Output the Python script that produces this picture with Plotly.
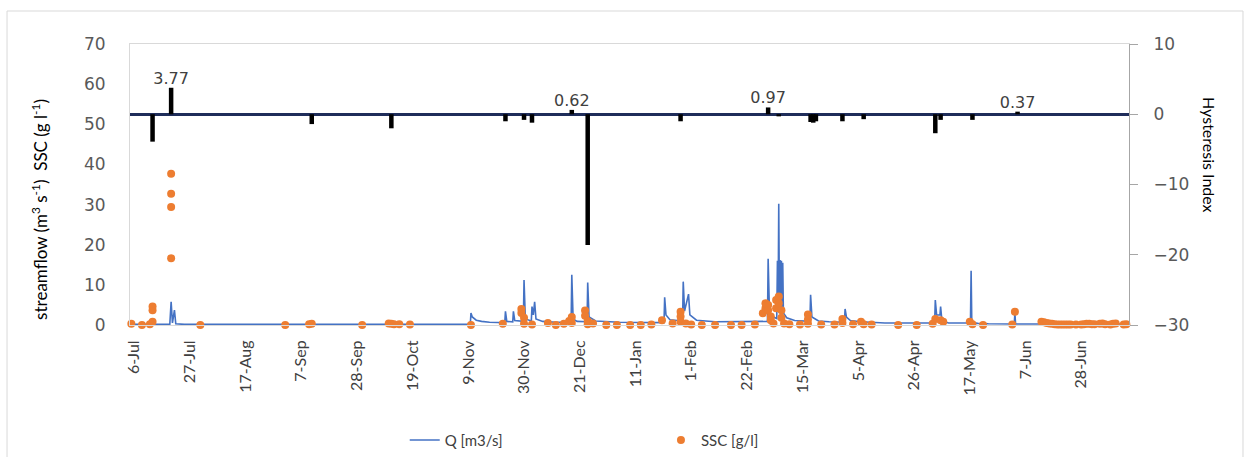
import plotly.graph_objects as go

# ---------------- data ----------------
tick_dates = ["2014-07-06", "2014-07-27", "2014-08-17", "2014-09-07", "2014-09-28",
              "2014-10-19", "2014-11-09", "2014-11-30", "2014-12-21", "2015-01-11",
              "2015-02-01", "2015-02-22", "2015-03-15", "2015-04-05", "2015-04-26",
              "2015-05-17", "2015-06-07", "2015-06-28"]
tick_labels = ["6-Jul", "27-Jul", "17-Aug", "7-Sep", "28-Sep", "19-Oct", "9-Nov",
               "30-Nov", "21-Dec", "11-Jan", "1-Feb", "22-Feb", "15-Mar", "5-Apr",
               "26-Apr", "17-May", "7-Jun", "28-Jun"]

q_dates = ["2014-07-05", "2014-07-19 12:00", "2014-07-20", "2014-07-20 12:00",
           "2014-07-21 06:00", "2014-07-21 18:00", "2014-07-25", "2014-11-09 18:00",
           "2014-11-10", "2014-11-10 12:00", "2014-11-12", "2014-11-14", "2014-11-17",
           "2014-11-20", "2014-11-22 18:00", "2014-11-23", "2014-11-23 12:00",
           "2014-11-25 18:00", "2014-11-26", "2014-11-26 12:00", "2014-11-29 18:00",
           "2014-11-30", "2014-11-30 12:00", "2014-12-02 18:00", "2014-12-03",
           "2014-12-03 12:00", "2014-12-04", "2014-12-04 12:00", "2014-12-07",
           "2014-12-12", "2014-12-17 18:00", "2014-12-18", "2014-12-18 12:00",
           "2014-12-20", "2014-12-23 18:00", "2014-12-24", "2014-12-24 12:00",
           "2014-12-27", "2015-01-05", "2015-01-21 18:00", "2015-01-22",
           "2015-01-22 12:00", "2015-01-24", "2015-01-28 18:00", "2015-01-29",
           "2015-01-29 12:00", "2015-01-31", "2015-01-31 12:00", "2015-02-03",
           "2015-02-10", "2015-03-01 18:00", "2015-03-02", "2015-03-02 12:00",
           "2015-03-04", "2015-03-05 06:00", "2015-03-05 12:00", "2015-03-05 18:00",
           "2015-03-06", "2015-03-06 06:00", "2015-03-06 12:00", "2015-03-06 18:00",
           "2015-03-07", "2015-03-07 06:00", "2015-03-07 12:00", "2015-03-07 18:00",
           "2015-03-09", "2015-03-12", "2015-03-17 18:00", "2015-03-18",
           "2015-03-18 12:00", "2015-03-21", "2015-03-25", "2015-03-30 18:00",
           "2015-03-31", "2015-03-31 12:00", "2015-04-02", "2015-04-06", "2015-04-15",
           "2015-05-03 18:00", "2015-05-04", "2015-05-04 12:00", "2015-05-05 18:00",
           "2015-05-06", "2015-05-06 12:00", "2015-05-09", "2015-05-17 06:00",
           "2015-05-17 12:00", "2015-05-17 18:00", "2015-05-20", "2015-05-24",
           "2015-06-02 18:00", "2015-06-03", "2015-06-03 06:00", "2015-06-10",
           "2015-07-16"]
q_values = [0.2, 0.2, 5.8, 0.5,
            3.7, 0.3, 0.15, 0.15,
            3.0, 2.0, 1.2, 0.9, 0.7,
            0.6, 0.6, 3.4, 0.9,
            0.8, 3.4, 1.1, 0.9,
            11.2, 1.5, 1.0, 4.6,
            2.5, 5.8, 1.5, 0.9,
            0.7, 0.7, 12.5, 1.5,
            0.9, 0.8, 10.6, 2.0,
            1.0, 0.7, 0.6, 6.9,
            2.5, 1.3, 1.0, 10.8,
            3.5, 7.7, 2.5, 1.2,
            0.8, 0.9, 16.5, 3.0,
            2.0, 1.6, 16.0, 3.5,
            30.2, 5.0, 16.2, 4.5,
            16.0, 3.5, 15.5, 3.0,
            1.8, 1.1, 0.9, 7.5,
            2.0, 1.0, 0.8, 0.7,
            4.0, 2.0, 1.1, 0.8, 0.5,
            0.5, 6.2, 2.5, 2.5,
            4.6, 1.0, 0.5, 0.5,
            13.5, 0.6, 0.4, 0.3,
            0.25, 3.0, 0.25, 0.25,
            0.25]

ssc_dates = ["2014-07-05", "2014-07-09", "2014-07-12", "2014-07-13", "2014-07-13",
             "2014-07-13", "2014-07-20", "2014-07-20", "2014-07-20", "2014-07-20",
             "2014-07-31", "2014-09-01", "2014-09-10", "2014-09-11", "2014-09-30",
             "2014-10-10", "2014-10-11", "2014-10-12", "2014-10-14", "2014-10-18",
             "2014-11-10", "2014-11-22", "2014-11-29", "2014-11-29", "2014-11-30",
             "2014-11-30", "2014-12-03", "2014-12-09", "2014-12-12", "2014-12-15",
             "2014-12-17", "2014-12-18", "2014-12-18", "2014-12-23", "2014-12-23",
             "2014-12-24", "2014-12-24", "2014-12-26", "2014-12-31", "2015-01-04",
             "2015-01-09", "2015-01-13", "2015-01-17", "2015-01-21", "2015-01-25",
             "2015-01-28", "2015-01-28", "2015-01-28", "2015-01-30", "2015-02-01",
             "2015-02-05", "2015-02-10", "2015-02-16", "2015-02-20", "2015-02-25",
             "2015-02-28", "2015-03-01", "2015-03-01", "2015-03-02", "2015-03-02",
             "2015-03-03", "2015-03-03", "2015-03-04", "2015-03-05", "2015-03-05",
             "2015-03-06", "2015-03-06", "2015-03-07", "2015-03-07", "2015-03-08",
             "2015-03-10", "2015-03-14", "2015-03-17", "2015-03-17", "2015-03-17",
             "2015-03-22", "2015-03-27", "2015-03-30", "2015-03-30", "2015-04-03",
             "2015-04-06", "2015-04-07", "2015-04-10", "2015-04-20", "2015-04-27",
             "2015-05-03", "2015-05-04", "2015-05-06", "2015-05-07", "2015-05-17",
             "2015-05-18", "2015-05-22", "2015-06-02", "2015-06-03", "2015-06-13",
             "2015-06-14", "2015-06-15", "2015-06-16", "2015-06-17", "2015-06-18",
             "2015-06-19", "2015-06-20", "2015-06-21", "2015-06-22", "2015-06-23",
             "2015-06-24", "2015-06-26", "2015-06-28", "2015-06-29", "2015-06-30",
             "2015-07-01", "2015-07-02", "2015-07-03", "2015-07-05", "2015-07-06",
             "2015-07-07", "2015-07-09", "2015-07-10", "2015-07-11", "2015-07-14",
             "2015-07-15"]
ssc_values = [0.3, 0.0, 0.2, 0.8, 3.7,
              4.6, 16.6, 29.4, 32.7, 37.7,
              0.0, 0.0, 0.2, 0.3, 0.0,
              0.4, 0.3, 0.2, 0.2, 0.1,
              0.0, 0.3, 4.0, 3.0, 1.8,
              0.3, 0.1, 0.5, 0.0, 0.3,
              1.0, 2.0, 0.5, 3.6, 2.3,
              1.0, 0.2, 0.4, 0.0, 0.0,
              0.0, 0.0, 0.1, 1.2, 0.4,
              3.3, 2.1, 0.8, 0.4, 0.1,
              0.0, 0.0, 0.0, 0.0, 0.1,
              2.9, 4.2, 5.4, 5.0, 3.7,
              2.1, 1.2, 0.4, 4.2, 6.2,
              7.1, 5.4, 3.7, 1.8, 0.4,
              0.2, 0.1, 2.6, 1.4, 0.3,
              0.1, 0.1, 1.5, 0.5, 0.2,
              0.8, 0.2, 0.1, 0.0, 0.0,
              0.3, 1.5, 1.2, 0.8, 0.8,
              0.2, 0.0, 0.1, 3.3, 0.8,
              0.7, 0.5, 0.4, 0.3, 0.2,
              0.1, 0.1, 0.1, 0.1, 0.1,
              0.1, 0.1, 0.1, 0.2, 0.3,
              0.3, 0.2, 0.2, 0.3, 0.4,
              0.2, 0.1, 0.3, 0.4, 0.1,
              0.2]

hi_dates = ["2014-07-13", "2014-07-20", "2014-09-11", "2014-10-11", "2014-11-23",
            "2014-11-30", "2014-12-03", "2014-12-18", "2014-12-24", "2015-01-28",
            "2015-03-02", "2015-03-06", "2015-03-18", "2015-03-19", "2015-03-20",
            "2015-03-30", "2015-04-07", "2015-05-04", "2015-05-06", "2015-05-18",
            "2015-06-04"]
hi_values = [-3.9, 3.77, -1.4, -2.0, -1.0,
             -0.8, -1.2, 0.62, -18.6, -1.0,
             0.97, -0.3, -1.1, -1.2, -1.0,
             -1.0, -0.7, -2.7, -0.8, -0.8,
             0.37]
# labelled (positive) hysteresis events
lbl_dates = ["2014-07-20", "2014-12-18", "2015-03-02", "2015-06-04"]
lbl_values = [3.77, 0.62, 0.97, 0.37]

# ---------------- figure ----------------
BLUE = "#4472C4"
ORANGE = "#ED7D31"
TICK_FONT = dict(family="DejaVu Sans", size=17, color="#595959")
DATE_FONT = dict(family="Lato", size=16, color="#404040")

fig = go.Figure()

fig.add_trace(go.Scatter(
    x=q_dates, y=q_values, mode="lines", name="Q [m3/s]",
    line=dict(color=BLUE, width=1.6), cliponaxis=False, legend="legend",
))
fig.add_trace(go.Scatter(
    x=ssc_dates, y=ssc_values, mode="markers", name="SSC [g/l]",
    marker=dict(color=ORANGE, size=8, line=dict(width=0)), cliponaxis=False,
    legend="legend2",
))
fig.add_trace(go.Bar(
    x=hi_dates, y=hi_values, yaxis="y2", name="HI", showlegend=False,
    marker=dict(color="black", line=dict(width=0)),
    width=1.7 * 86400000, cliponaxis=False,
))
fig.add_trace(go.Scatter(
    x=lbl_dates, y=lbl_values, yaxis="y2", mode="text", showlegend=False,
    text=[f"{v:.2f}" for v in lbl_values], textposition="top center",
    textfont=dict(family="DejaVu Sans", size=16, color="#404040"),
    cliponaxis=False,
))

fig.update_layout(
    width=1250, height=457,
    margin=dict(l=130, r=121, t=44, b=132, autoexpand=False),
    paper_bgcolor="white", plot_bgcolor="white",
    showlegend=True,
    xaxis=dict(
        type="date", range=["2014-07-04 12:00", "2015-07-16"],
        tickmode="array", tickvals=tick_dates, ticktext=tick_labels,
        tickangle=-90, tickfont=DATE_FONT, ticks="",
        ticklabelstandoff=8, automargin=False,
        showgrid=False, zeroline=False,
        showline=True, linecolor="#d9d9d9", linewidth=1, mirror=True,
    ),
    yaxis=dict(
        range=[0, 70], dtick=10, tickfont=TICK_FONT, ticks="",
        ticklabelstandoff=20, automargin=False,
        showgrid=False, zeroline=False,
        showline=True, linecolor="#d9d9d9", linewidth=1,
    ),
    yaxis2=dict(
        range=[-30, 10], dtick=10, overlaying="y", side="right",
        tickfont=TICK_FONT, ticks="outside", ticklen=8, tickcolor="#a6a6a6",
        ticklabelstandoff=12, automargin=False,
        showgrid=False,
        zeroline=True, zerolinecolor="#1F2D5A", zerolinewidth=3,
        showline=True, linecolor="#a6a6a6", linewidth=1,
    ),
    legend=dict(
        orientation="h", x=0.275, xanchor="left", y=-0.41, yanchor="middle",
        font=dict(family="Lato", size=15, color="#404040"),
        bgcolor="rgba(0,0,0,0)",
    ),
    legend2=dict(
        orientation="h", x=0.5315, xanchor="left", y=-0.41, yanchor="middle",
        font=dict(family="Lato", size=15, color="#404040"),
        bgcolor="rgba(0,0,0,0)",
    ),
    annotations=[
        dict(text="streamflow (m<sup>3</sup> s<sup>-1</sup>)  SSC (g l<sup>-1</sup>)",
             xref="paper", yref="paper", x=-0.09, y=0.41, textangle=-90,
             showarrow=False, font=dict(family="Lato", size=17, color="#000000"),
             xanchor="center", yanchor="middle"),
        dict(text="Hysteresis Index",
             xref="paper", yref="paper", x=1.08, y=0.605, textangle=90,
             showarrow=False, font=dict(family="Lato", size=16, color="#000000"),
             xanchor="center", yanchor="middle"),
    ],
    shapes=[
        dict(type="rect", xref="paper", yref="paper",
             x0=-0.1231, x1=1.1141, y0=-0.48, y1=1.1174,
             line=dict(color="#d9d9d9", width=1), fillcolor="rgba(0,0,0,0)",
             layer="below"),
    ],
)

fig.write_html(
    "out.html",
    config={"displayModeBar": False},
    post_script="document.body.style.margin='0px';document.body.style.padding='0px';",
)
